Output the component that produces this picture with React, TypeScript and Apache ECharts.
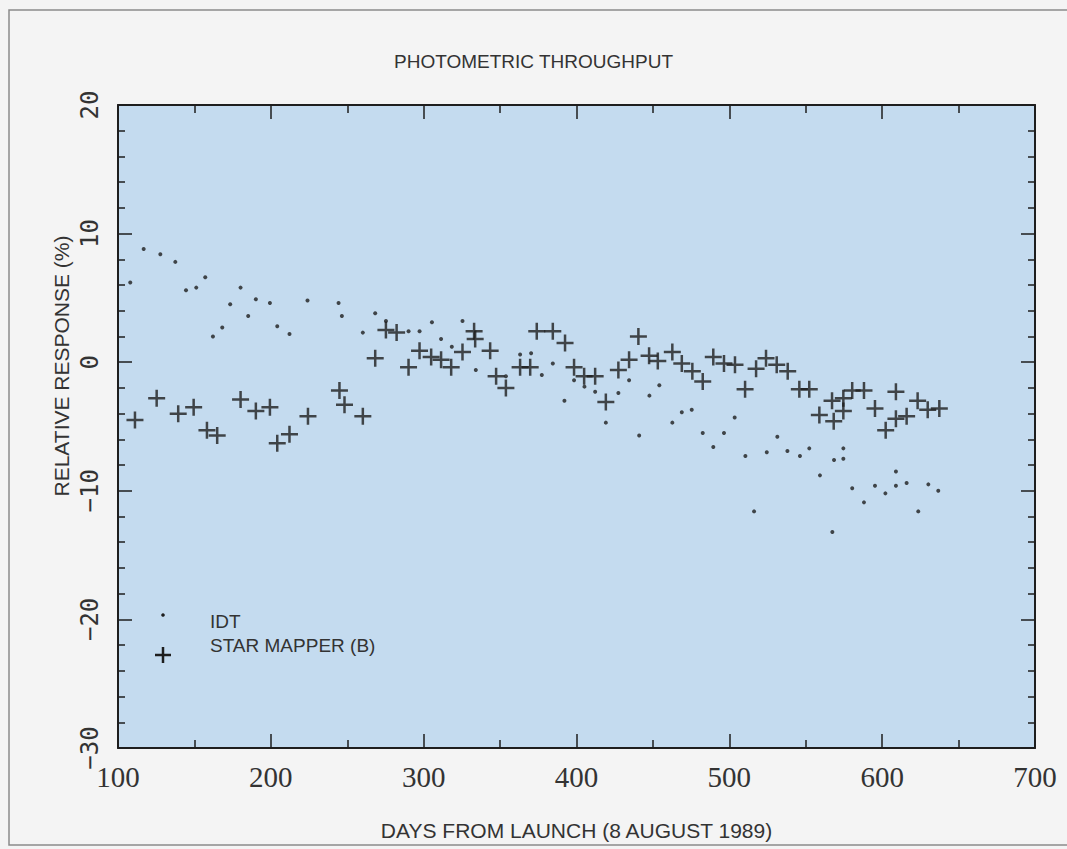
import React, { useEffect, useRef } from "react";
import * as echarts from "echarts";

const idtDays = [108, 116.8, 127.7, 137.5, 144.5, 151.2, 157.1, 162.1, 168.2, 173.4, 180.2, 185.2, 190.2, 199.4, 204.2, 212.2, 224, 244.3, 246.5, 260.2, 268.3, 275.3, 290.1, 297.3, 305.4, 311.4, 318.4, 325.4, 334.1, 353.8, 363.1, 370.3, 377.3, 384.5, 392.1, 398.4, 405.2, 412.2, 419.2, 427.4, 434.4, 441, 447.7, 454.2, 462.7, 468.9, 475.4, 482.6, 489.5, 496.5, 503.5, 510.5, 516.2, 524.5, 531.4, 538, 546.2, 552.3, 559.3, 567.4, 568.5, 574.6, 574.6, 580.4, 588.1, 595.3, 602.1, 609, 609, 616, 623.6, 630.2, 636.7];
const idtResponse = [6.2, 8.8, 8.4, 7.8, 5.6, 5.8, 6.6, 2.0, 2.7, 4.5, 5.8, 3.6, 4.9, 4.6, 2.8, 2.2, 4.8, 4.6, 3.6, 2.3, 3.8, 3.2, 2.4, 2.4, 3.1, 1.8, 1.2, 3.2, -0.6, -1.1, 0.6, 0.7, -1.0, -0.1, -3.0, -1.4, -1.9, -2.3, -4.7, -2.4, -1.4, -5.7, -2.6, -1.8, -4.7, -3.9, -3.7, -5.5, -6.6, -5.5, -4.3, -7.3, -11.6, -7.0, -5.8, -6.9, -7.3, -6.7, -8.8, -13.2, -7.6, -6.7, -7.5, -9.8, -10.9, -9.6, -10.2, -8.5, -9.6, -9.4, -11.6, -9.5, -10.0];

const starDays = [111.1, 125.3, 139.4, 149.5, 158.2, 164.9, 180.2, 190.2, 199.4, 204.2, 212.2, 224.3, 244.9, 248.2, 260.2, 268.3, 275.3, 282.3, 290.1, 297.3, 304.9, 311.4, 318, 325.4, 333, 333.7, 343.5, 347.4, 353.8, 363.1, 369.7, 374, 384.5, 392.5, 398.4, 405, 412.2, 419.2, 427.4, 434.4, 440.5, 447.5, 453.2, 462.7, 468.9, 475.8, 482.6, 489.5, 496.5, 503.7, 510.3, 517.5, 524, 531, 538.2, 545.8, 552.3, 558.9, 567.2, 568.3, 574.6, 574.6, 580.4, 588.1, 595.3, 602.3, 609, 609, 616, 623.2, 629.8, 637.4];
const starResponse = [-4.5, -2.8, -4.0, -3.5, -5.3, -5.7, -2.9, -3.8, -3.5, -6.3, -5.6, -4.2, -2.2, -3.3, -4.2, 0.3, 2.5, 2.3, -0.4, 0.9, 0.4, 0.2, -0.4, 0.8, 2.4, 1.8, 0.9, -1.1, -2.0, -0.4, -0.4, 2.4, 2.4, 1.5, -0.4, -1.1, -1.1, -3.1, -0.6, 0.2, 2.0, 0.5, 0.1, 0.8, -0.1, -0.7, -1.5, 0.4, -0.1, -0.2, -2.1, -0.5, 0.3, -0.2, -0.7, -2.1, -2.1, -4.1, -3.0, -4.6, -2.8, -3.8, -2.2, -2.2, -3.6, -5.3, -2.3, -4.4, -4.2, -3.0, -3.7, -3.6];

const xTicks = { min: 100, max: 700, step: 100 };
const yTicks = { min: -30, max: 20, step: 10 };

const TITLE = "PHOTOMETRIC THROUGHPUT";
const X_NAME = "DAYS FROM LAUNCH (8 AUGUST 1989)";
const Y_NAME = "RELATIVE RESPONSE (%)";
const SERIES_NAMES = ["IDT", "STAR MAPPER (B)"];

const INK = "#1e1e1e";
const CROSS = "path://M10,0L10,20M0,10L20,10";

export default function App() {
  const ref = useRef<HTMLDivElement>(null);
  useEffect(() => {
    if (!ref.current) return;
    const chart = echarts.init(ref.current, null, { renderer: "svg" });
    const axisLine = { show: true, onZero: false, lineStyle: { color: INK, width: 2 } };
    const baseX = {
      type: "value",
      min: xTicks.min,
      max: xTicks.max,
      interval: xTicks.step,
      splitLine: { show: false },
      axisLine,
      axisTick: { show: true, inside: true, length: 14, lineStyle: { color: INK, width: 1.5 } },
      minorTick: { show: true, splitNumber: 2, length: 8, lineStyle: { color: INK, width: 1.5 } },
    };
    const baseY = {
      type: "value",
      min: yTicks.min,
      max: yTicks.max,
      interval: yTicks.step,
      splitLine: { show: false },
      axisLine,
      axisTick: { show: true, inside: true, length: 14, lineStyle: { color: INK, width: 1.5 } },
      minorTick: { show: true, splitNumber: 5, length: 7, lineStyle: { color: INK, width: 1.5 } },
    };
    chart.setOption({
      animation: false,
      backgroundColor: "#f4f4f4",
      title: {
        text: TITLE,
        left: "center",
        top: 47,
        textStyle: { fontFamily: "Liberation Sans, Arial, sans-serif", fontSize: 19, fontWeight: "normal", color: "#333" },
      },
      grid: { left: 118, right: 32, top: 105, bottom: 101, show: true, backgroundColor: "#c4dbef", borderWidth: 0 },
      xAxis: [
        {
          ...baseX,
          position: "bottom",
          name: X_NAME,
          nameLocation: "middle",
          nameGap: 72,
          nameTextStyle: { fontFamily: "Liberation Sans Narrow, Liberation Sans, sans-serif", fontSize: 21, color: "#333" },
          axisLabel: {
            margin: 14,
            fontFamily: "Liberation Serif, DejaVu Serif, serif",
            fontSize: 29,
            color: "#333",
          },
        },
        { ...baseX, position: "top", axisLabel: { show: false } },
      ],
      yAxis: [
        {
          ...baseY,
          position: "left",
          axisLabel: {
            rotate: 90,
            margin: 16,
            fontFamily: "DejaVu Sans Mono, monospace",
            fontSize: 24,
            color: "#333",
            formatter: (v: number) => String(v).replace("-", "\u2212"),
          },
        },
        { ...baseY, position: "right", axisLabel: { show: false } },
      ],
      graphic: [
        {
          type: "rect",
          silent: true,
          z: -10,
          shape: { x: 9, y: 10, width: 1070, height: 835 },
          style: { fill: "none", stroke: "#8a8a8a", lineWidth: 1.5 },
        },
        {
          type: "text",
          x: 61,
          y: 366,
          rotation: Math.PI / 2,
          style: {
            text: Y_NAME,
            fontFamily: "Liberation Sans, Arial, sans-serif",
            fontSize: 21,
            fill: "#333",
            align: "center",
            verticalAlign: "middle",
          },
        },
        { type: "circle", shape: { cx: 163, cy: 615, r: 1.8 }, style: { fill: INK }, z: 10 },
        {
          type: "group",
          z: 10,
          children: [
            { type: "line", shape: { x1: 155, y1: 655, x2: 171, y2: 655 }, style: { stroke: INK, lineWidth: 2.5 } },
            { type: "line", shape: { x1: 163, y1: 647, x2: 163, y2: 663 }, style: { stroke: INK, lineWidth: 2.5 } },
          ],
        },
        {
          type: "text",
          x: 210,
          y: 612,
          z: 10,
          style: { text: SERIES_NAMES[0], fontFamily: "Liberation Sans, Arial, sans-serif", fontSize: 19, fill: "#333" },
        },
        {
          type: "text",
          x: 210,
          y: 636,
          z: 10,
          style: { text: SERIES_NAMES[1], fontFamily: "Liberation Sans, Arial, sans-serif", fontSize: 19, fill: "#333" },
        },
      ],
      series: [
        {
          name: SERIES_NAMES[0],
          type: "scatter",
          symbol: "circle",
          symbolSize: 4,
          itemStyle: { color: INK },
          data: idtDays.map((d, i) => [d, idtResponse[i]]),
        },
        {
          name: SERIES_NAMES[1],
          type: "scatter",
          symbol: CROSS,
          symbolSize: 17,
          itemStyle: { color: "none", borderColor: INK, borderWidth: 2.5 },
          data: starDays.map((d, i) => [d, starResponse[i]]),
        },
      ],
    });
    return () => chart.dispose();
  }, []);
  return (
    <div
      ref={ref}
      style={{ position: "fixed", left: 0, top: 0, width: 1067, height: 849 }}
    />
  );
}
